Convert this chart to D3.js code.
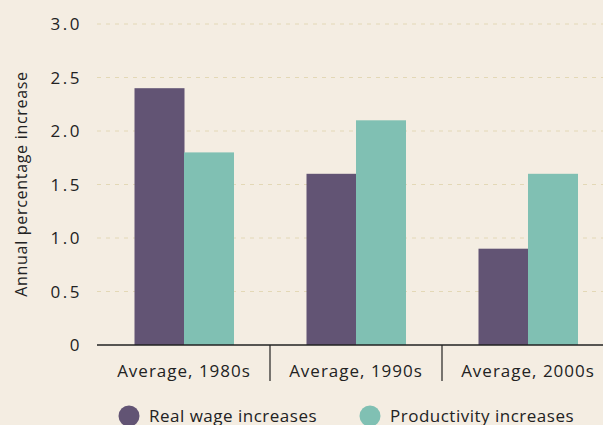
<!DOCTYPE html>
<html>
<head>
<meta charset="utf-8">
<script src="https://cdn.jsdelivr.net/npm/d3@7"></script>
<style>
  body { margin: 0; background: #f4ede2; }
  text { font-family: "Open Sans", sans-serif; fill: #222; }
</style>
</head>
<body>
<script>
var categories = ["Average, 1980s", "Average, 1990s", "Average, 2000s"]
var series = ["Real wage increases", "Productivity increases"]
var realWage = [2.4, 1.6, 0.9]
var productivity = [1.8, 2.1, 1.6]
var yTicks = [0, 0.5, 1.0, 1.5, 2.0, 2.5, 3.0]
var colors = ["#625474", "#80c0b3"]

var width = 603, height = 425

var svg = d3.select("body")
    .append("svg")
    .attr("width", width)
    .attr("height", height)

svg.append("rect")
    .attr("width", width)
    .attr("height", height)
    .attr("fill", "#f4ede2")

var x = d3.scaleBand()
    .domain(categories)
    .range([98, 614])

var x1 = d3.scaleBand()
    .domain(series)
    .range([0, 99])

var y = d3.scaleLinear()
    .domain([0, 3])
    .range([345, 24])

// gridlines
svg.append("g")
  .selectAll("line")
  .data(yTicks.filter(function(d) { return d > 0 }))
  .enter().append("line")
    .attr("x1", 97)
    .attr("x2", width)
    .attr("y1", function(d) { return y(d) })
    .attr("y2", function(d) { return y(d) })
    .attr("stroke", "#e3d8b6")
    .attr("stroke-width", 1)
    .attr("stroke-dasharray", "4,5")

// y tick labels
svg.append("g")
  .selectAll("text")
  .data(yTicks)
  .enter().append("text")
    .attr("x", 82)
    .attr("y", function(d) { return y(d) + 6 })
    .attr("text-anchor", "end")
    .attr("font-size", 17)
    .attr("letter-spacing", 2.5)
    .text(function(d) { return d === 0 ? "0" : d.toFixed(1) })

// y title
svg.append("text")
    .attr("transform", "translate(27,184) rotate(-90)")
    .attr("text-anchor", "middle")
    .attr("font-size", 16)
    .attr("letter-spacing", 0.7)
    .text("Annual percentage increase")

// bars
var rows = categories.map(function(c, i) {
  return { cat: c, values: [realWage[i], productivity[i]] }
})

var groups = svg.append("g")
  .selectAll("g")
  .data(rows)
  .enter().append("g")
    .attr("transform", function(d) { return "translate(" + (x(d.cat) + (x.bandwidth() - 99) / 2) + ",0)" })

groups.selectAll("rect")
  .data(function(d) { return d.values.map(function(v, j) { return { s: series[j], v: v, j: j } }) })
  .enter().append("rect")
    .attr("x", function(d) { return x1(d.s) })
    .attr("width", x1.bandwidth() + 0.5)
    .attr("y", function(d) { return y(d.v) })
    .attr("height", function(d) { return y(0) - y(d.v) })
    .attr("fill", function(d) { return colors[d.j] })

// x axis
var xAxis = svg.append("g")
    .attr("transform", "translate(0," + y(0) + ")")
    .call(d3.axisBottom(x).tickSize(0).tickPadding(20))
xAxis.select(".domain")
    .attr("d", "M97,0H" + width)
    .attr("stroke", "#222")
    .attr("stroke-width", 1.5)
xAxis.selectAll("text")
    .attr("font-size", 17)
    .attr("letter-spacing", 1)
    .attr("font-family", "Open Sans, sans-serif")
    .attr("fill", "#222")

// category dividers
svg.append("g")
  .selectAll("line")
  .data(categories.slice(1))
  .enter().append("line")
    .attr("x1", function(d) { return x(d) })
    .attr("x2", function(d) { return x(d) })
    .attr("y1", y(0))
    .attr("y2", 381)
    .attr("stroke", "#222")
    .attr("stroke-width", 1.2)

// legend
var legendX = [129, 370]
var legend = svg.append("g")
  .selectAll("g")
  .data(series)
  .enter().append("g")
    .attr("transform", function(d, i) { return "translate(" + legendX[i] + ",416)" })
legend.append("circle")
    .attr("r", 10.5)
    .attr("fill", function(d, i) { return colors[i] })
legend.append("text")
    .attr("x", 20)
    .attr("y", 6)
    .attr("font-size", 17)
    .attr("letter-spacing", 0.5)
    .text(function(d) { return d })
</script>
</body>
</html>
